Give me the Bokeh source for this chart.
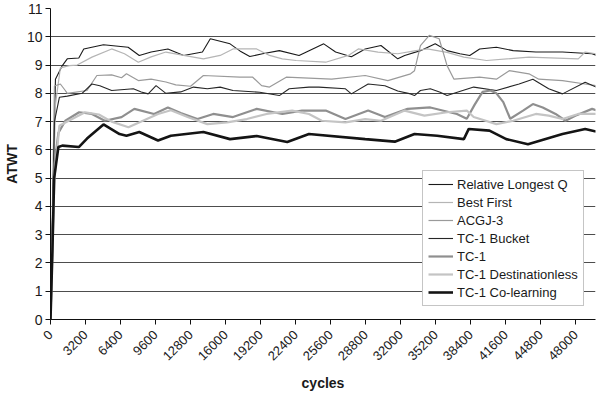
import math
from bokeh.plotting import figure
from bokeh.models import Range1d, FixedTicker, Legend, LegendItem
from bokeh.embed import file_html
from bokeh.resources import INLINE

# ---- data ----
x_ticks = list(range(0, 48001, 3200))
y_ticks = list(range(0, 12))

rlq_x = [0, 451, 1082, 1532, 2587, 3038, 4840, 7094, 8112, 9194, 10727, 12169, 13882, 14603, 16405, 17307,
         18208, 19380, 20912, 22715, 24969, 26050, 27493, 28755, 30197, 31730, 32361, 33803, 35155, 36237,
         37409, 38310, 39212, 40744, 42276, 44349, 46783, 49487, 49848]
rlq_y = [0, 8.5, 8.98, 9.22, 9.25, 9.57, 9.72, 9.63, 9.34, 9.46, 9.57, 9.34, 9.46, 9.93, 9.75, 9.5,
         9.3, 9.4, 9.51, 9.34, 9.75, 9.46, 9.29, 9.57, 9.69, 9.22, 9.34, 9.51, 9.75, 9.51,
         9.4, 9.34, 9.57, 9.63, 9.51, 9.46, 9.46, 9.4, 9.35]

bf_x = [0, 451, 901, 1713, 2434, 3786, 5589, 6761, 8022, 9194, 10546, 12169, 13972, 15504, 16676, 18839,
        20011, 21183, 22445, 25149, 27222, 28123, 29926, 31730, 33262, 34434, 36237, 37769, 39842, 43718,
        48225, 48856, 49848]
bf_y = [0, 7.6, 8.9, 8.98, 9.0, 9.28, 9.57, 9.4, 9.1, 9.29, 9.46, 9.34, 9.22, 9.34, 9.57, 9.57,
        9.34, 9.22, 9.16, 9.1, 9.34, 9.57, 9.46, 9.4, 9.5, 9.57, 9.45, 9.28, 9.16, 9.28,
        9.22, 9.46, 9.4]

acgj_x = [0, 361, 901, 1352, 1532, 3335, 4237, 5589, 6490, 6941, 8022, 9194, 10546, 11448, 12800, 13972,
          17307, 18479, 19290, 20011, 21543, 25690, 28755, 30828, 32901, 33262, 33803, 34614, 35515, 36237,
          36868, 39212, 40744, 41916, 43718, 44619, 46783, 48856, 49848]
acgj_y = [0, 8.26, 8.33, 8.1, 8.0, 8.1, 8.63, 8.65, 8.55, 8.69, 8.45, 8.5, 8.4, 8.3, 8.25, 8.63,
          8.57, 8.57, 8.27, 8.22, 8.57, 8.5, 8.63, 8.45, 8.69, 8.8, 9.69, 10.05, 9.93, 8.98,
          8.5, 8.57, 8.5, 8.8, 8.69, 8.5, 8.45, 8.33, 8.27]

bucket_x = [0, 361, 811, 1532, 2884, 3786, 4507, 5589, 7572, 8293, 8924, 9645, 10546, 11898, 13070, 14332,
            15504, 16676, 19110, 20912, 21814, 23617, 24518, 26952, 27493, 29025, 30557, 31730, 32901,
            33262, 33803, 34704, 35605, 36237, 38670, 40744, 42817, 44079, 45521, 46783, 48856, 49848]
bucket_y = [0, 7.0, 7.86, 7.9, 8.0, 8.33, 8.27, 8.1, 8.16, 8.05, 7.98, 8.27, 8.0, 8.05, 8.22, 8.16,
            8.22, 8.1, 8.04, 7.92, 8.16, 8.22, 8.22, 8.16, 7.98, 8.33, 8.27, 8.08, 7.98,
            7.92, 8.1, 8.16, 8.04, 7.92, 8.22, 8.1, 8.33, 8.5, 8.16, 7.98, 8.39, 8.22]

tc1_x = [0, 361, 721, 1352, 2614, 3786, 4958, 6490, 7662, 9465, 10727, 11898, 13431, 14873, 16676, 18839,
         21183, 22986, 25149, 26952, 29025, 30557, 32631, 34704, 37138, 38039, 38760, 39482, 40203, 40744,
         41375, 42006, 43178, 44079, 44980, 46152, 47053, 47955, 49487, 49848]
tc1_y = [0, 5.5, 6.6, 7.03, 7.33, 7.27, 7.03, 7.16, 7.45, 7.27, 7.5, 7.3, 7.09, 7.27, 7.16, 7.45,
         7.27, 7.39, 7.39, 7.09, 7.39, 7.16, 7.45, 7.5, 7.27, 7.1, 7.6, 8.05, 8.1, 8.0,
         7.69, 7.1, 7.39, 7.62, 7.5, 7.27, 7.03, 7.21, 7.45, 7.4]

dest_x = [0, 361, 811, 1532, 3155, 4417, 5589, 7121, 8293, 9825, 10997, 12529, 14332, 16135, 17938, 19741,
          22084, 23617, 24789, 26952, 28755, 30197, 32361, 34164, 36237, 38039, 38670, 40744, 42276, 44349,
          45521, 46783, 48225, 49848]
dest_y = [0, 5.0, 6.85, 7.0, 7.33, 7.25, 7.0, 6.8, 7.0, 7.27, 7.4, 7.16, 6.91, 6.97, 7.09, 7.27,
          7.39, 7.27, 7.03, 6.97, 7.09, 7.03, 7.39, 7.21, 7.33, 7.39, 7.16, 6.91, 7.03, 7.27,
          7.21, 7.09, 7.27, 7.27]

colearn_x = [0, 180, 333, 721, 1082, 2587, 3335, 4840, 6310, 6941, 8113, 9825, 10997, 13972, 16405, 18839,
             21634, 23617, 28755, 31459, 33262, 35335, 37769, 38220, 40113, 41645, 43628, 46783, 48856, 49848]
colearn_y = [0, 2.5, 5.0, 6.1, 6.15, 6.1, 6.4, 6.9, 6.56, 6.5, 6.63, 6.33, 6.5, 6.63, 6.38, 6.49,
             6.28, 6.56, 6.38, 6.29, 6.56, 6.5, 6.38, 6.74, 6.68, 6.38, 6.2, 6.56, 6.74, 6.65]

series_names = ["Relative Longest Q", "Best First", "ACGJ-3", "TC-1 Bucket", "TC-1",
                "TC-1 Destinationless", "TC-1 Co-learning"]

FONT = "Liberation Sans"

p = figure(frame_width=545, frame_height=311, x_range=Range1d(0, 49800), y_range=Range1d(0, 11),
           output_backend="svg", toolbar_location=None,
           min_border_left=40, min_border_right=1, min_border_top=8, min_border_bottom=60)
p.outline_line_color = None
p.background_fill_color = "white"
p.border_fill_color = "white"

# axes
p.xaxis.ticker = FixedTicker(ticks=x_ticks)
p.yaxis.ticker = FixedTicker(ticks=y_ticks)
p.xaxis.major_label_orientation = math.pi / 4
for ax in (p.xaxis[0], p.yaxis[0]):
    ax.axis_line_color = "#111111"
    ax.axis_line_width = 1
    ax.major_tick_line_color = "#111111"
    ax.major_tick_out = 5
    ax.major_tick_in = 0
    ax.minor_tick_out = 0
    ax.minor_tick_in = 0
    ax.major_label_text_font = FONT
    ax.major_label_text_color = "#1a1a1a"
    ax.axis_label_text_font = FONT
    ax.axis_label_text_font_style = "bold"
    ax.axis_label_text_color = "#1a1a1a"
    ax.axis_label_text_font_size = "14px"
p.xaxis.major_label_text_font_size = "13px"
p.yaxis.major_label_text_font_size = "14px"
p.xaxis.axis_label = "cycles"
p.yaxis.axis_label = "ATWT"
p.xaxis.major_label_standoff = 8
p.yaxis.major_label_standoff = 3
p.xaxis.axis_label_standoff = 8
p.yaxis.axis_label_standoff = 4

p.xgrid.grid_line_color = None
p.ygrid.grid_line_color = "#4d4d4d"
p.ygrid.grid_line_width = 1

styles = [
    (rlq_x, rlq_y, "#1a1a1a", 1.1),
    (bf_x, bf_y, "#b5b5b5", 1.2),
    (acgj_x, acgj_y, "#9a9a9a", 1.2),
    (bucket_x, bucket_y, "#262626", 1.1),
    (tc1_x, tc1_y, "#8f8f8f", 2.2),
    (dest_x, dest_y, "#c4c4c4", 2.2),
    (colearn_x, colearn_y, "#141414", 2.6),
]

renderers = []
for (xs, ys, col, w), name in zip(styles, series_names):
    r = p.line(xs, ys, line_color=col, line_width=w)
    renderers.append((name, r))

legend = Legend(items=[LegendItem(label=n, renderers=[r]) for n, r in renderers],
                location=(372, 13))
legend.label_text_font = FONT
legend.label_text_font_size = "13px"
legend.label_text_color = "#1a1a1a"
legend.glyph_width = 25
legend.glyph_height = 16
legend.label_height = 16
legend.label_standoff = 4
legend.spacing = 2
legend.padding = 5
legend.margin = 0
legend.border_line_color = "#8c8c8c"
legend.border_line_width = 1.5
legend.background_fill_color = "white"
legend.background_fill_alpha = 1
p.add_layout(legend)

open("out.html", "w").write(file_html(p, INLINE))
